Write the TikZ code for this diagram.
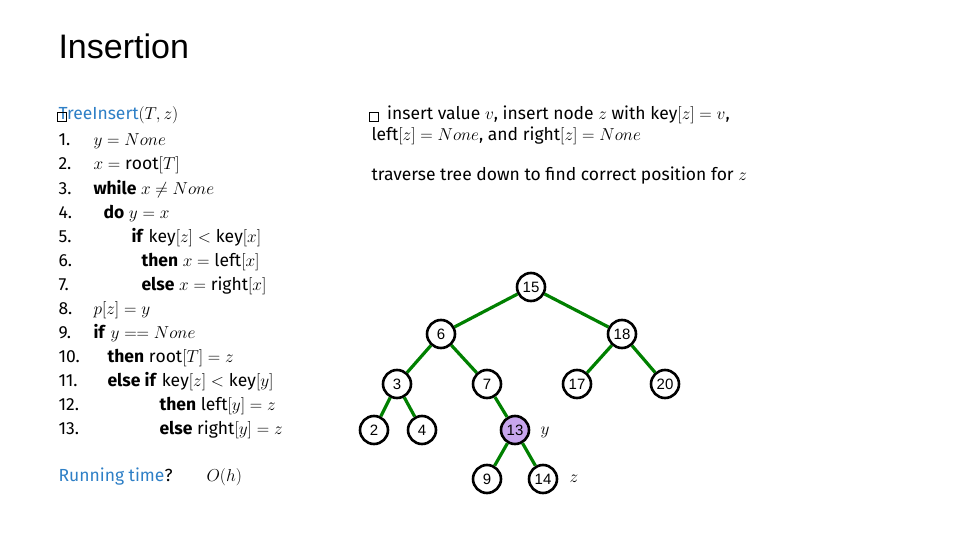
\documentclass[tikz,border=0pt]{standalone}
\usepackage{fontspec}
\setmainfont{Fira Sans}
\newfontfamily\arialf{Liberation Sans}
\begin{document}
\begin{tikzpicture}[x=1pt,y=-1pt,
  nd/.style={circle,draw=black,line width=2.6pt,minimum size=28pt,inner sep=0pt,fill=white,font=\arialf\fontsize{15}{15}\selectfont},
  ed/.style={draw=green!50!black,line width=3.2pt},
  cl/.style={anchor=base west,font=\fontsize{17.5}{19}\selectfont},
  box/.style={draw=black,line width=1.8pt,minimum size=9pt,inner sep=0pt}]
\useasboundingbox (0,0) rectangle (960,540);
\definecolor{blu}{HTML}{2E7FC6}
\definecolor{lav}{HTML}{C8A6EE}
\node[anchor=base west,font=\arialf\fontsize{34}{36}\selectfont] (title) at (55,59) {Insertion};
\node[cl,text=blu] (hd) at (55,120) {TreeInsert\textcolor{black}{$(T,z)$}};
\node[box] (sq1) at (62,117) {};
\foreach \n/\ind/\txt [count=\i] in {
 1/90/{$y=None$},
 2/90/{$x=\mathrm{root}[T]$},
 3/90/{\textbf{while} $x\neq None$},
 4/100/{\textbf{do} $y=x$},
 5/128/{\textbf{if} $\mathrm{key}[z]<\mathrm{key}[x]$},
 6/138/{\textbf{then} $x=\mathrm{left}[x]$},
 7/138/{\textbf{else} $x=\mathrm{right}[x]$},
 8/90/{$p[z]=y$},
 9/90/{\textbf{if} $y==None$},
 10/104/{\textbf{then} $\mathrm{root}[T]=z$},
 11/104/{\textbf{else if} $\mathrm{key}[z]<\mathrm{key}[y]$},
 12/156/{\textbf{then} $\mathrm{left}[y]=z$},
 13/156/{\textbf{else} $\mathrm{right}[y]=z$}}{
  \node[cl] (n\i) at (55,{146+(\i-1)*24}) {\n.};
  \node[cl] (c\i) at (\ind,{146+(\i-1)*24}) {\txt};
}
\node[cl,text=blu] (rt) at (55,481) {Running time\textcolor{black}{?}};
\node[cl] (oh) at (203,481) {$O(h)$};
\node[cl] (cm1) at (368,120) {\hspace{1.2ex} insert value $v$, insert node $z$ with $\mathrm{key}[z]=v$,};
\node[box] (sq2) at (374,117) {};
\node[cl] (cm2) at (368,141) {$\mathrm{left}[z]=None$, and $\mathrm{right}[z]=None$};
\node[cl] (cm3) at (368,181) {traverse tree down to find correct position for $z$};
% tree
\node[nd] (t15) at (531,287) {15};
\node[nd] (t6) at (441,334) {6};
\node[nd] (t18) at (622,334) {18};
\node[nd] (t3) at (397,384) {3};
\node[nd] (t7) at (487,384) {7};
\node[nd] (t17) at (577,384) {17};
\node[nd] (t20) at (665,384) {20};
\node[nd] (t2) at (374,430) {2};
\node[nd] (t4) at (422,430) {4};
\node[nd,fill=lav] (t13) at (515,430) {13};
\node[nd] (t9) at (487,479) {9};
\node[nd] (t14) at (543,479) {14};
\foreach \a/\b in {15/6,15/18,6/3,6/7,18/17,18/20,3/2,3/4,7/13,13/9,13/14}
  \draw[ed] (t\a) -- (t\b);
\node[font=\fontsize{16}{16}\selectfont] (ly) at (545,432) {$y$};
\node[font=\fontsize{16}{16}\selectfont] (lz) at (574,479) {$z$};
\end{tikzpicture}
\end{document}
